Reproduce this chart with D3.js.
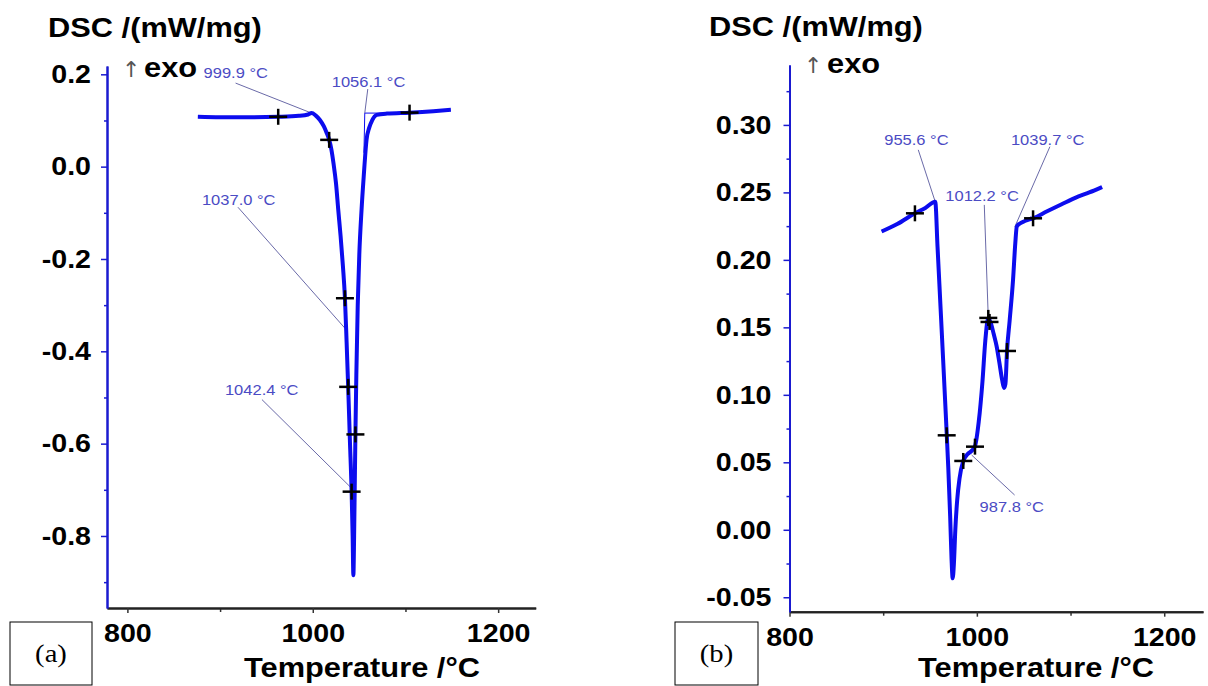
<!DOCTYPE html>
<html>
<head>
<meta charset="utf-8">
<script src="https://cdn.jsdelivr.net/npm/d3@7"></script>
<style>
  body { margin: 0; background: #fff; }
  svg { display: block; }
</style>
</head>
<body>
<script>
// ---------- data, panel (a) ----------
let tempA = [876, 900, 930, 962.7, 985, 995, 998.7, 1003, 1007.7, 1012, 1015, 1017.7, 1020, 1022.5, 1025,
    1027.5, 1030, 1032.5, 1034.7, 1036.5, 1038.2, 1040, 1041.9, 1043, 1043.8, 1044.6, 1045.3, 1046, 1047,
    1048.5, 1050.2, 1052.6, 1055, 1058, 1061, 1064, 1069, 1080, 1104.4, 1130, 1149]
let dscA = [0.108, 0.107, 0.107, 0.108, 0.110, 0.113, 0.116, 0.111, 0.101, 0.087, 0.073, 0.058, 0.038, 0.005, -0.035,
    -0.094, -0.15, -0.215, -0.285, -0.38, -0.477, -0.59, -0.704, -0.80, -0.885, -0.80, -0.69, -0.58, -0.45,
    -0.30, -0.19, -0.094, -0.02, 0.058, 0.085, 0.100, 0.112, 0.115, 0.117, 0.120, 0.123]
let markTempA = [962.7, 1017.7, 1034.7, 1038.2, 1046, 1041.9, 1104.4]
let markDscA = [0.108, 0.058, -0.285, -0.477, -0.58, -0.704, 0.117]
let noteTextA = ["999.9 °C", "1056.1 °C", "1037.0 °C", "1042.4 °C"]
let noteTempA = [998.7, 1056.1, 1034.7, 1040.1]
let noteDscA = [0.116, 0.116, -0.35, -0.693]
let tangentA = [[[1056.1, 0.116], [1085, 0.116]], [[1056.1, 0.116], [1055.2, 0.03]]]
let yTicksA = [0.2, 0.0, -0.2, -0.4, -0.6, -0.8]
let yMinorA = [0.1, -0.1, -0.3, -0.5, -0.7, -0.9]

// ---------- data, panel (b) ----------
let tempB = [898.3, 915, 933.9, 945, 955.6, 958, 961, 964, 967, 969.5, 971.5, 973, 974.2, 975.5, 977, 979,
    981.5, 985.5, 990, 994.4, 998, 1002, 1006, 1009, 1012.2, 1015, 1018, 1021.1, 1024, 1027, 1029, 1030.5,
    1032.2, 1035, 1038.6, 1041, 1042.6, 1046, 1052, 1060, 1075, 1090, 1105, 1120, 1133.7]
let dscB = [0.221, 0.2265, 0.2345, 0.2385, 0.243, 0.21, 0.168, 0.126, 0.083, 0.046, 0.01, -0.022, -0.036, -0.025, 0.0, 0.022,
    0.038, 0.051, 0.056, 0.0585, 0.062, 0.08, 0.11, 0.14, 0.157, 0.153, 0.145, 0.136, 0.124, 0.111, 0.105, 0.108,
    0.1325, 0.155, 0.185, 0.212, 0.2246, 0.227, 0.229, 0.2308, 0.236, 0.241, 0.246, 0.250, 0.254]
let markTempB = [933.9, 967.8, 985.5, 998, 1012.2, 1013.5, 1032.2, 1060]
let markDscB = [0.2345, 0.070, 0.051, 0.0616, 0.157, 0.154, 0.1325, 0.2308]
let noteTextB = ["955.6 °C", "1039.7 °C", "1012.2 °C", "987.8 °C"]
let noteTempB = [955.6, 1040.6, 1012.2, 994.4]
let noteDscB = [0.243, 0.2246, 0.157, 0.0554]
let tangentB = [[[1040.6, 0.2246], [1058, 0.232]]]
let yTicksB = [0.30, 0.25, 0.20, 0.15, 0.10, 0.05, 0.00, -0.05]
let yMinorB = [0.325, 0.275, 0.225, 0.175, 0.125, 0.075, 0.025, -0.025]

let xTicks = [800, 1000, 1200]
let xMinor = [900, 1100]

// ---------- layout ----------
let font = "'Liberation Sans', Arial, sans-serif"
let curveBlue = "#0c0cee"
let axisBlue = "#1a1ad0"
let noteColor = "#4b4bc4"
let stretchK = 1.1

let svg = d3.select("body").append("svg")
    .attr("width", 1208)
    .attr("height", 686)

// widen text a little, the source figure is stretched sideways
let stretch = (sel, k) => {
    sel.each(function () {
        let w = this.getComputedTextLength()
        d3.select(this).attr("textLength", w * k).attr("lengthAdjust", "spacingAndGlyphs")
    })
}

let drawPanel = (p) => {
    let x = d3.scaleLinear().domain(p.xDomain).range(p.xRange)
    let y = d3.scaleLinear().domain(p.yDomain).range(p.yRange)
    let g = svg.append("g")
    let x0 = p.xRange[0], yb = p.yRange[0]

    // y axis (blue)
    let gy = g.append("g").attr("transform", `translate(${x0},0)`)
    gy.append("g").call(d3.axisLeft(y).tickValues(p.yMinor).tickSize(3).tickSizeOuter(0).tickFormat(""))
    gy.append("g").call(d3.axisLeft(y).tickValues(p.yTicks).tickSize(6).tickSizeOuter(0)
        .tickPadding(p.yPad).tickFormat(p.yFmt))
    gy.selectAll("path.domain").attr("stroke", axisBlue).attr("stroke-width", 2)
    gy.selectAll(".tick line").attr("stroke", axisBlue).attr("stroke-width", 1.5)
    gy.selectAll(".tick text")
        .attr("fill", "#000")
        .style("font-family", font)
        .style("font-weight", "bold")
        .style("font-size", p.tickSize + "px")
        .call(stretch, stretchK)

    // x axis (dark)
    let gx = g.append("g").attr("transform", `translate(0,${yb})`)
    gx.append("g").call(d3.axisBottom(x).tickValues(xMinor).tickSize(4).tickSizeOuter(0).tickFormat(""))
    gx.append("g").call(d3.axisBottom(x).tickValues(xTicks).tickSize(5).tickSizeOuter(0)
        .tickPadding(p.xPad).tickFormat(d3.format("d")))
    gx.selectAll("path.domain").attr("stroke", "#222").attr("stroke-width", 2)
    gx.selectAll(".tick line").attr("stroke", "#333").attr("stroke-width", 1.5)
    gx.selectAll(".tick text")
        .attr("fill", "#000")
        .style("font-family", font)
        .style("font-weight", "bold")
        .style("font-size", p.tickSize + "px")
        .call(stretch, stretchK)
    // the y axis draws over the x axis corner
    gy.raise()

    // titles
    g.append("text")
        .attr("x", p.titleX).attr("y", p.titleY)
        .style("font-family", font).style("font-weight", "bold").style("font-size", "28px")
        .text("DSC /(mW/mg)")
        .call(stretch, stretchK)
    g.append("text")
        .attr("x", p.arrowX).attr("y", p.exoY)
        .attr("fill", "#555")
        .style("font-family", "'DejaVu Sans', sans-serif").style("font-size", "22px")
        .text("↑")
    g.append("text")
        .attr("x", p.exoX).attr("y", p.exoY)
        .style("font-family", font).style("font-weight", "bold").style("font-size", "28px")
        .text("exo")
        .call(stretch, stretchK)
    g.append("text")
        .attr("x", p.xTitleX).attr("y", 677)
        .attr("text-anchor", "middle")
        .style("font-family", font).style("font-weight", "bold").style("font-size", "28px")
        .text("Temperature /°C")
        .call(stretch, stretchK)

    // thin tangent construction lines
    let line = d3.line().x(d => x(d[0])).y(d => y(d[1]))
    g.selectAll(".tangent")
        .data(p.tangents)
        .enter().append("path")
        .attr("class", "tangent")
        .attr("d", line)
        .attr("fill", "none")
        .attr("stroke", curveBlue)
        .attr("stroke-width", 1)

    // annotations: leader lines + values
    let notes = p.noteText.map((t, i) => ({ text: t, t: p.noteTemp[i], v: p.noteDsc[i], o: p.noteOff[i] }))
    g.selectAll(".leader")
        .data(notes)
        .enter().append("line")
        .attr("x1", d => x(d.t) + d.o.lx).attr("y1", d => y(d.v) + d.o.ly)
        .attr("x2", d => x(d.t)).attr("y2", d => y(d.v))
        .attr("stroke", "#6a6aa8")
        .attr("stroke-width", 1)
    g.selectAll(".note")
        .data(notes)
        .enter().append("text")
        .attr("x", d => x(d.t) + d.o.tx).attr("y", d => y(d.v) + d.o.ty)
        .attr("fill", noteColor)
        .style("font-family", font).style("font-size", "15px")
        .text(d => d.text)
        .call(stretch, stretchK)

    // DSC curve
    let pts = p.temp.map((t, i) => [t, p.dsc[i]])
    g.append("path")
        .datum(pts)
        .attr("d", d3.line().x(d => x(d[0])).y(d => y(d[1])).curve(d3.curveMonotoneX))
        .attr("fill", "none")
        .attr("stroke", curveBlue)
        .attr("stroke-width", 4)
        .attr("stroke-linejoin", "round")

    // evaluation markers
    let marks = p.markTemp.map((t, i) => [t, p.markDsc[i]])
    let mg = g.selectAll(".mark")
        .data(marks)
        .enter().append("g")
        .attr("transform", d => `translate(${x(d[0])},${y(d[1])})`)
    mg.append("line").attr("x1", -9).attr("x2", 9).attr("stroke", "#000").attr("stroke-width", 2.5)
    mg.append("line").attr("y1", -8).attr("y2", 8).attr("stroke", "#000").attr("stroke-width", 2.5)

    // panel tag
    g.append("rect")
        .attr("x", p.tag.x).attr("y", 622).attr("width", p.tag.w).attr("height", 63)
        .attr("fill", "#fff").attr("stroke", "#000").attr("stroke-width", 1)
    g.append("text")
        .attr("x", p.tag.x + p.tag.w / 2).attr("y", 662)
        .attr("text-anchor", "middle")
        .style("font-family", "'Liberation Serif', 'Times New Roman', serif")
        .style("font-size", "26px")
        .text(p.tag.label)
        .call(stretch, stretchK)
}

drawPanel({
    temp: tempA, dsc: dscA, markTemp: markTempA, markDsc: markDscA,
    noteText: noteTextA, noteTemp: noteTempA, noteDsc: noteDscA,
    noteOff: [
        { tx: -108, ty: -35, lx: -76, ly: -30 },
        { tx: -33, ty: -26, lx: 3, ly: -24 },
        { tx: -143, ty: -123, lx: -107, ly: -121 },
        { tx: -125, ty: -92, lx: -88, ly: -87 }
    ],
    tangents: tangentA,
    yTicks: yTicksA, yMinor: yMinorA, yFmt: d => d.toFixed(1),
    xDomain: [778, 1240.5], xRange: [107, 535.7],
    yDomain: [-0.956, 0.218], yRange: [608, 66],
    tickSize: 26, yPad: 10, xPad: 11,
    titleX: 48, titleY: 37, arrowX: 122, exoX: 144, exoY: 77, xTitleX: 362,
    tag: { x: 10, w: 82, label: "(a)" }
})

drawPanel({
    temp: tempB, dsc: dscB, markTemp: markTempB, markDsc: markDscB,
    noteText: noteTextB, noteTemp: noteTempB, noteDsc: noteDscB,
    noteOff: [
        { tx: -51, ty: -57, lx: -17, ly: -52 },
        { tx: -4, ty: -82, lx: 35, ly: -80 },
        { tx: -43, ty: -117, lx: -4, ly: -113 },
        { tx: 8, ty: 57, lx: 43, ly: 40 }
    ],
    tangents: tangentB,
    yTicks: yTicksB, yMinor: yMinorB, yFmt: d => d.toFixed(2),
    xDomain: [800, 1241.4], xRange: [789.5, 1203],
    yDomain: [-0.0607, 0.3444], yRange: [611.7, 65],
    tickSize: 26, yPad: 12, xPad: 11,
    titleX: 709, titleY: 36, arrowX: 804, exoX: 827, exoY: 73, xTitleX: 1036,
    tag: { x: 675, w: 83, label: "(b)" }
})
</script>
</body>
</html>
